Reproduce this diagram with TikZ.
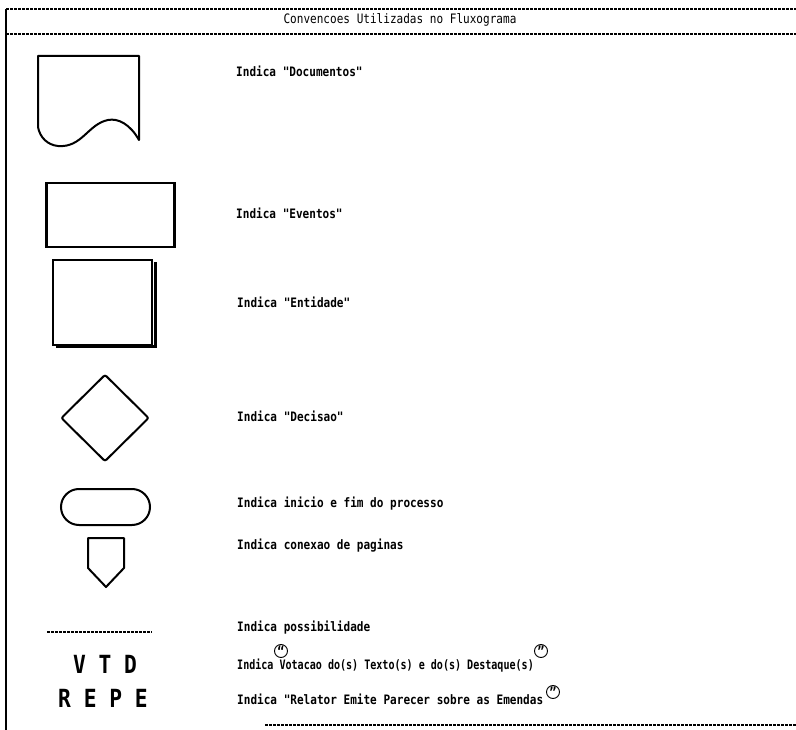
\documentclass[tikz,border=0pt]{standalone}
\usepackage{fontspec}
\newfontfamily\dotfont[FakeStretch=0.85]{DejaVu Sans Mono}
\usetikzlibrary{shapes.geometric,shapes.misc}
\tikzset{
  lbl/.style={anchor=west,inner sep=0pt,font=\dotfont\bfseries\fontsize{13}{13}\selectfont},
  shp/.style={draw,line width=2pt},
  dashrule/.style={line width=1.6pt,dash pattern=on 3pt off 1pt},
  big/.style={inner sep=0pt,font=\dotfont\bfseries\fontsize{25}{25}\selectfont},
  qmark/.style={draw,circle,inner sep=0pt,minimum size=13pt,line width=0.9pt,font=\dotfont\bfseries\fontsize{14}{14}\selectfont}
}
\begin{document}
\begin{tikzpicture}[x=1pt,y=-1pt]
\useasboundingbox (0,0) rectangle (796,730);
% frame
\coordinate (tl) at (6,9);
\coordinate (tr) at (796,9);
\coordinate (ml) at (6,34);
\coordinate (mr) at (796,34);
\coordinate (bl) at (6,730);
\coordinate (bs) at (265,725);
\coordinate (be) at (796,725);
\draw[dashrule] (tl) -- (tr);
\draw[dashrule] (ml) -- (mr);
\draw[line width=1.2pt] (tl) -- (bl);
\draw[line width=1.2pt,dash pattern=on 3pt off 1pt] (bs) -- (be);
\node[inner sep=0pt,font=\dotfont\fontsize{13}{13}\selectfont] (title) at (400,20) {Convencoes Utilizadas no Fluxograma};

% documento
\draw[shp,line join=round] (38,127) -- (38,56) -- (139,56) -- (139,140)
  .. controls (130,124) and (118,118) .. (108,120)
  .. controls (88,124) and (82,148) .. (58,146)
  .. controls (48,145) and (40,138) .. (38,127);
\node[lbl] (tdoc) at (236,71) {Indica "Documentos"};

% eventos
\node[draw,line width=2.6pt,rectangle,minimum width=128pt,minimum height=64pt,inner sep=0pt] (ev) at (110.5,215) {};
\node[lbl] (tev) at (236,213) {Indica "Eventos"};

% entidade
\draw[line width=3pt] (56,347) -- (155,347) -- (155,262);
\node[draw,line width=1.4pt,rectangle,minimum width=99pt,minimum height=85pt,inner sep=0pt,fill=white] (ent) at (102.5,302.5) {};
\node[lbl] (tent) at (237,302) {Indica "Entidade"};

% decisao
\node[shp,diamond,minimum width=88pt,minimum height=87pt,inner sep=0pt,rounded corners=2pt] (dec) at (105,418) {};
\node[lbl] (tdec) at (237,416) {Indica "Decisao"};

% terminal
\node[shp,rounded rectangle,minimum width=89pt,minimum height=36pt,inner sep=0pt] (term) at (105.5,507) {};
\node[lbl] (tterm) at (237,504) {Indica inicio e fim do processo};

% conexao
\draw[shp,line join=round] (88,538) -- (124,538) -- (124,568) -- (106,587) -- (88,568) -- cycle;
\node[lbl] (tcon) at (237,546) {Indica conexao de paginas};

% possibilidade
\coordinate (p1) at (47,632);
\coordinate (p2) at (152,632);
\draw[line width=1.4pt,dash pattern=on 3pt off 1pt] (p1) -- (p2);
\node[lbl] (tpos) at (237,628) {Indica possibilidade};

% VTD / REPE
\node[big] (vtd) at (105,664) {V T D};
\node[big] (repe) at (103,698) {R E P E};
\node[lbl] (tvtd) at (237,666) {\scalebox{0.91}[1]{Indica Votacao do(s) Texto(s) e do(s) Destaque(s)}};
\node[qmark] (q1) at (281,651) {\symbol{"201C}};
\node[qmark] (q2) at (541,651) {\symbol{"201D}};
\node[lbl] (trepe) at (237,699) {Indica "Relator Emite Parecer sobre as Emendas};
\node[qmark] (q3) at (553,692) {\symbol{"201D}};
\end{tikzpicture}
\end{document}
